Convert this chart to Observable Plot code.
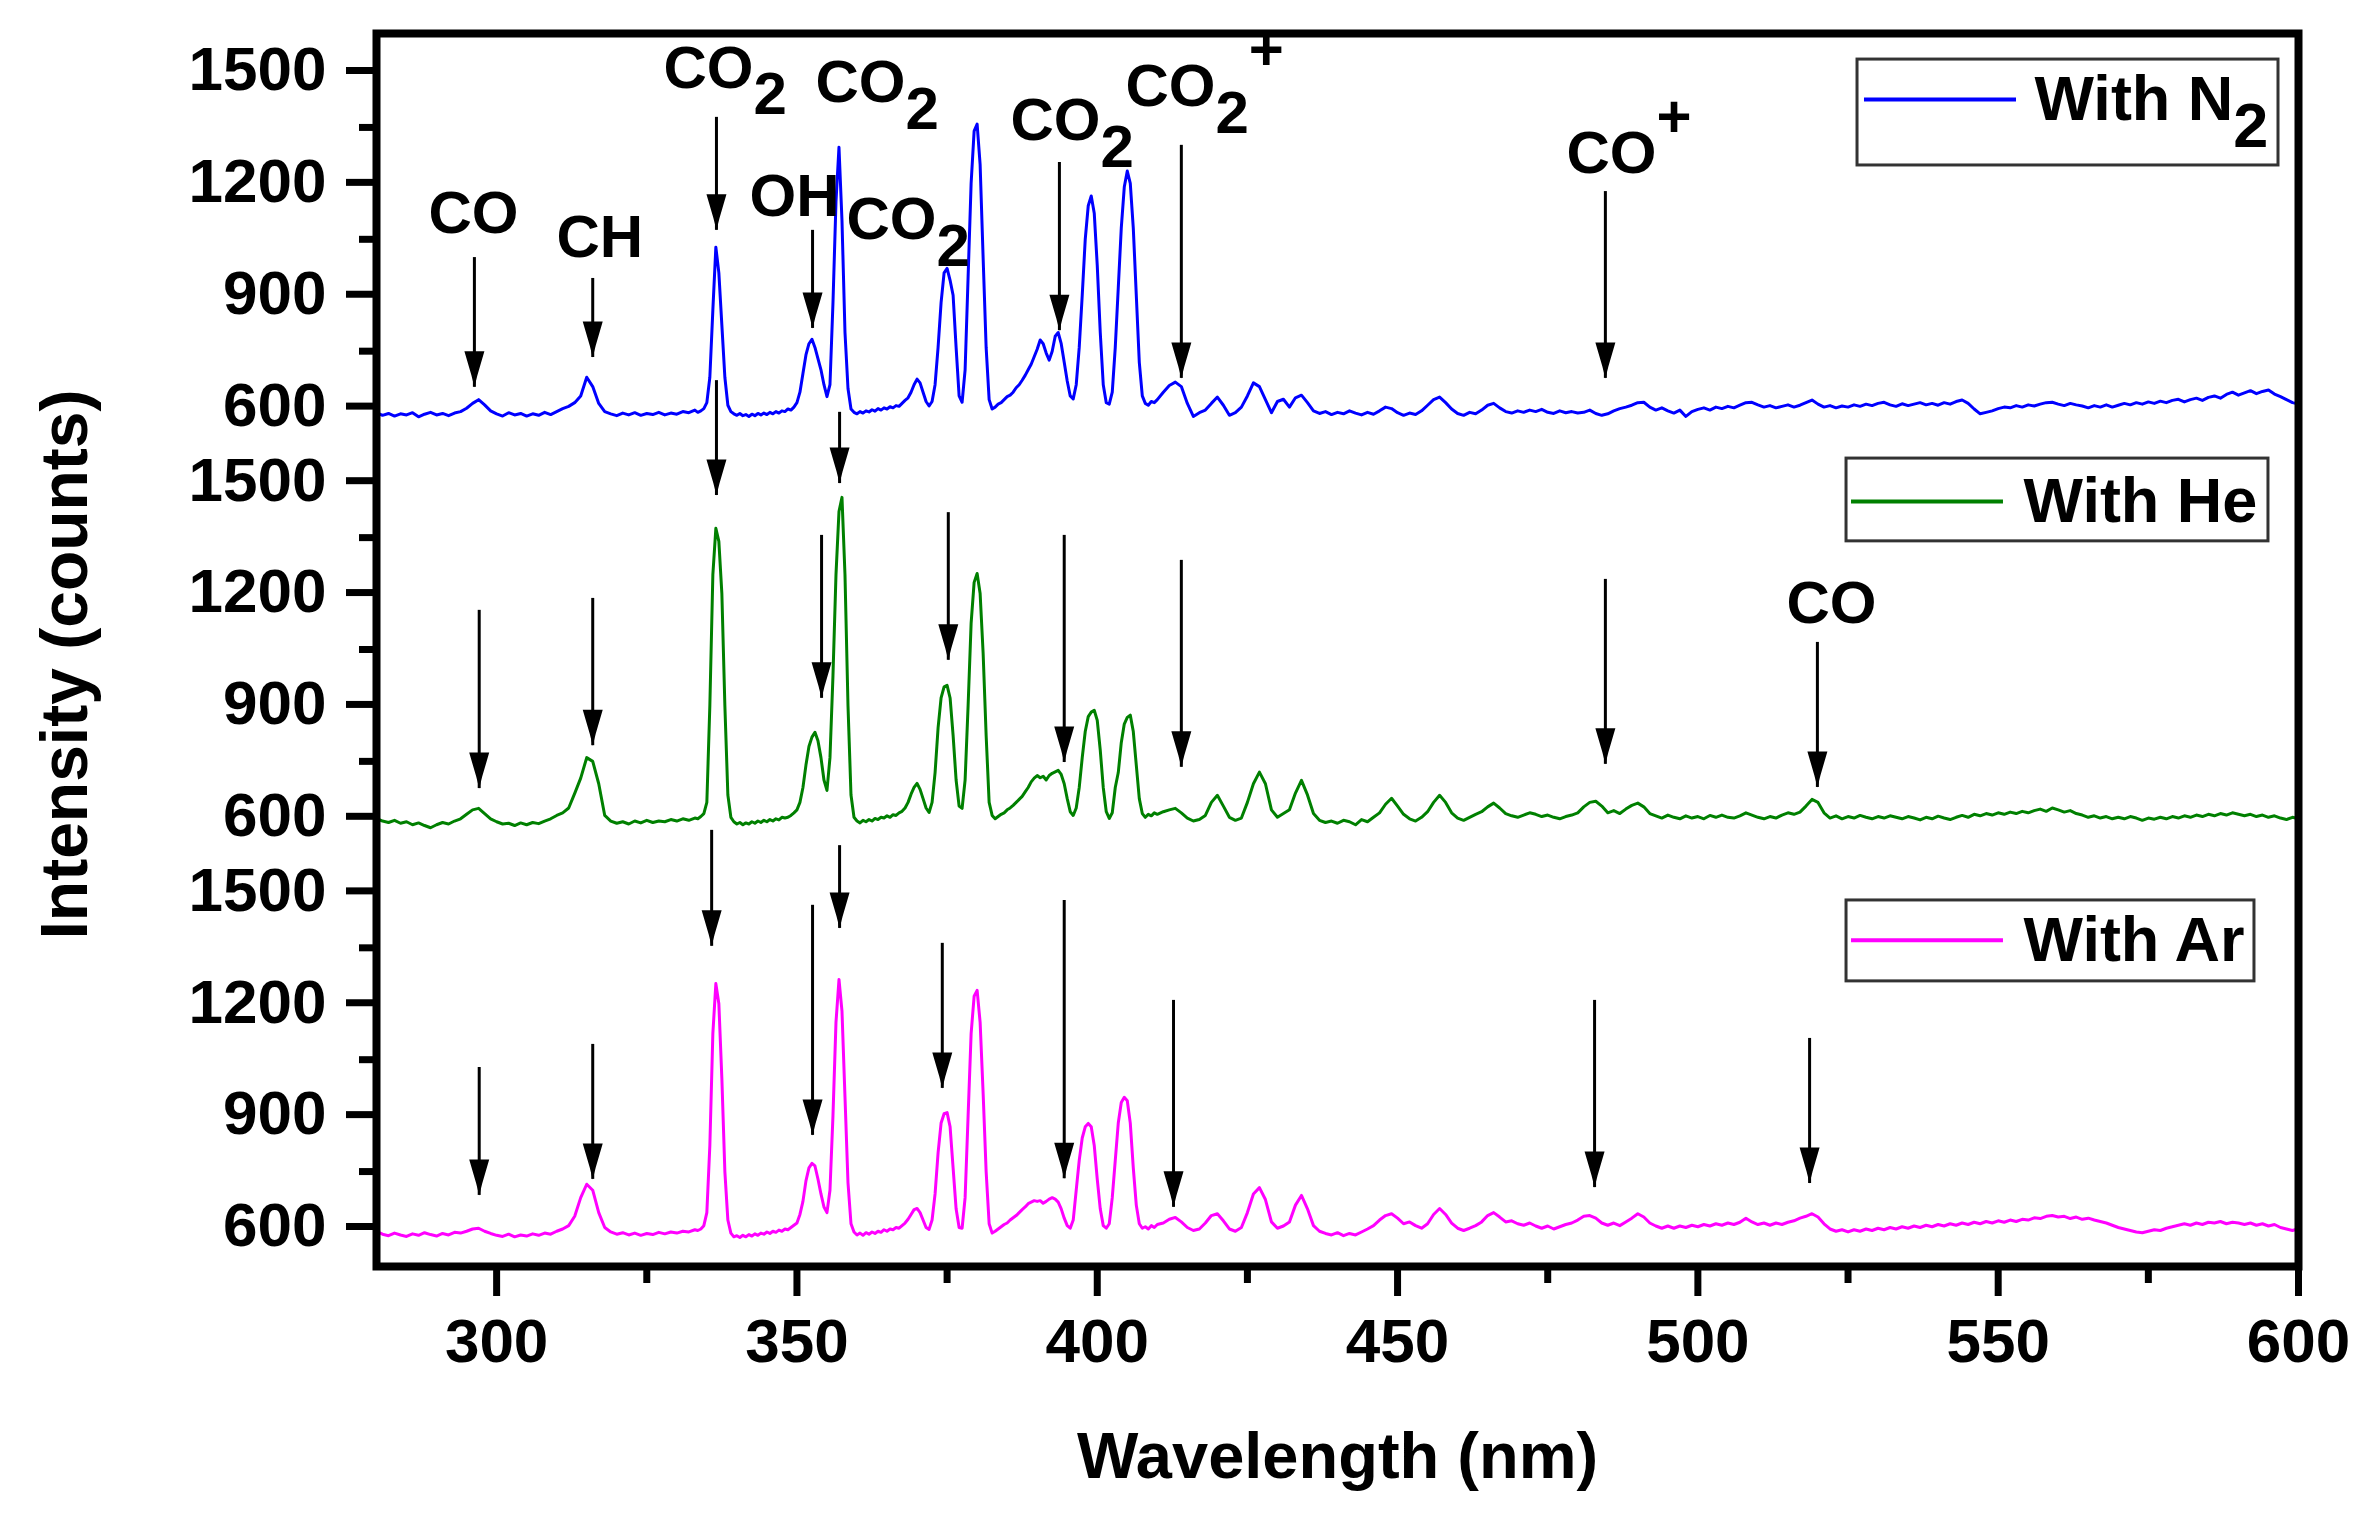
<!DOCTYPE html>
<html>
<head>
<meta charset="utf-8">
<script src="https://cdn.jsdelivr.net/npm/d3@7"></script>
<script src="https://cdn.jsdelivr.net/npm/@observablehq/plot@0.6"></script>
<style>
html, body { margin: 0; padding: 0; background: #fff; }
#chart { width: 2372px; height: 1516px; }
</style>
</head>
<body>
<div id="chart"></div>
<script>
// ---------------- DATA ----------------
const wavelength = [
280,281,282,283,284,285,286,287,288,289,
290,291,292,293,294,295,296,297,298,299,
300,301,302,303,304,305,306,307,308,309,
310,311,312,313,314,315,316,317,318,319,
320,321,322,323,324,325,326,327,328,329,
330,331,332,333,
333.5,334,334.5,335,335.5,336,336.5,337,337.5,338,
338.5,339,339.5,340,340.5,341,341.5,342,342.5,343,
343.5,344,344.5,345,345.5,346,346.5,347,347.5,348,
348.5,349,349.5,350,350.5,351,351.5,352,352.5,353,
353.5,354,354.5,355,355.5,356,356.5,357,357.5,358,
358.5,359,359.5,360,360.5,361,361.5,362,362.5,363,
363.5,364,364.5,365,365.5,366,366.5,367,367.5,368,
368.5,369,369.5,370,370.5,371,371.5,372,372.5,373,
373.5,374,374.5,375,375.5,376,376.5,377,377.5,378,
378.5,379,379.5,380,380.5,381,381.5,382,382.5,383,
383.5,384,384.5,385,385.5,386,386.5,387,387.5,388,
388.5,389,389.5,390,390.5,391,391.5,392,392.5,393,
393.5,394,394.5,395,395.5,396,396.5,397,397.5,398,
398.5,399,399.5,400,400.5,401,401.5,402,402.5,403,
403.5,404,404.5,405,405.5,406,406.5,407,407.5,408,
408.5,409,409.5,410,
411,412,413,414,415,416,417,418,419,420,
421,422,423,424,425,426,427,428,429,430,
431,432,433,434,435,436,437,438,439,440,
441,442,443,444,445,446,447,448,449,450,
451,452,453,454,455,456,457,458,459,460,
461,462,463,464,465,466,467,468,469,470,
471,472,473,474,475,476,477,478,479,480,
481,482,483,484,485,486,487,488,489,490,
491,492,493,494,495,496,497,498,499,500,
501,502,503,504,505,506,507,508,509,510,
511,512,513,514,515,516,517,518,519,520,
521,522,523,524,525,526,527,528,529,530,
531,532,533,534,535,536,537,538,539,540,
541,542,543,544,545,546,547,548,549,550,
551,552,553,554,555,556,557,558,559,560,
561,562,563,564,565,566,567,568,569,570,
571,572,573,574,575,576,577,578,579,580,
581,582,583,584,585,586,587,588,589,590,
591,592,593,594,595,596,597,598,599,600
];

const intensityN2 = [
585,578,583,576,582,579,585,574,581,586,
579,583,577,584,588,597,610,620,606,590,
582,576,585,579,583,576,582,578,586,580,
588,596,602,612,630,680,655,610,588,582,
577,584,579,585,578,583,580,586,579,584,
581,588,585,592,
586,590,596,612,680,860,1029,960,820,680,
605,588,582,578,583,577,580,575,581,577,
583,579,584,580,586,582,588,584,590,588,
595,592,600,612,640,690,740,770,782,760,
730,700,660,628,660,880,1150,1297,1100,800,
650,595,586,582,588,584,590,587,593,589,
596,592,598,595,601,598,604,602,610,618,
625,640,660,675,665,640,615,603,615,660,
760,880,960,972,940,900,760,630,613,700,
950,1200,1340,1359,1250,1000,760,620,595,600,
608,612,620,628,632,640,652,660,672,685,
700,715,735,755,780,770,745,726,750,790,
800,770,720,670,630,622,660,760,900,1050,
1140,1166,1120,980,800,660,612,608,640,760,
920,1080,1190,1233,1200,1080,900,720,630,610,
605,615,612,620,
640,658,667,655,610,575,585,592,610,627,
605,578,585,600,630,665,655,620,585,615,
621,600,625,632,612,590,583,588,580,586,
582,590,584,579,586,581,590,600,596,585,
578,584,580,590,605,620,627,612,595,583,
578,586,582,592,605,610,598,588,584,590,
586,592,588,594,586,583,590,585,588,584,
586,592,583,578,582,590,596,600,605,612,
613,600,592,598,590,584,592,575,588,594,
598,592,600,596,602,598,605,612,613,606,
600,604,598,602,606,600,605,612,619,608,
600,604,598,603,600,606,602,608,604,610,
613,606,602,609,604,608,612,606,610,605,
612,608,615,619,610,595,582,586,590,596,
600,598,604,600,606,603,608,612,613,608,
604,610,606,603,598,604,600,606,600,605,
610,606,612,608,614,610,616,612,618,621,
614,620,624,618,626,630,624,634,640,632,
638,644,636,642,646,635,628,620,612,608
];

const intensityHe = [
597,590,586,592,584,588,580,585,578,572,
580,586,582,590,596,608,620,624,610,596,
588,582,584,578,585,580,586,583,590,596,
605,612,625,664,705,760,750,690,605,590,
584,588,582,590,585,592,586,590,588,594,
590,596,592,598,
596,602,610,640,900,1250,1375,1340,1200,900,
660,600,588,582,586,580,585,582,588,584,
590,586,592,588,594,590,596,593,600,598,
600,605,612,620,640,680,740,790,815,828,
805,760,700,672,760,980,1250,1420,1458,1250,
900,660,600,590,585,592,588,594,590,597,
594,600,598,604,600,607,605,612,616,625,
640,662,680,691,675,650,625,613,640,720,
840,920,950,954,920,820,700,630,624,700,
900,1120,1230,1254,1200,1040,820,640,605,596,
602,608,612,620,625,632,640,648,656,668,
680,695,705,712,706,710,700,712,718,722,
726,715,690,650,615,605,625,680,760,830,
870,882,887,860,780,680,615,597,612,680,
720,800,850,868,874,830,740,650,610,600,
608,604,612,608,
615,620,624,612,598,590,594,605,640,659,
630,600,592,598,640,690,721,690,620,600,
610,620,665,699,660,610,592,586,590,584,
592,588,580,594,588,600,612,635,651,630,
608,596,590,600,615,640,659,640,612,598,
592,600,608,615,628,638,625,610,604,600,
606,612,608,602,606,600,596,602,606,612,
628,640,643,630,612,618,610,622,632,638,
628,610,604,598,606,600,596,604,598,602,
596,605,600,606,600,598,604,612,606,600,
596,602,598,606,612,608,614,630,648,640,
612,598,604,596,602,598,605,600,596,602,
598,604,600,596,602,598,593,600,596,603,
598,594,600,605,600,608,604,610,606,612,
608,614,610,616,612,618,622,616,625,620,
614,618,610,606,600,604,598,602,596,600,
596,602,598,592,598,595,600,596,602,598,
604,600,606,602,608,604,610,606,612,608,
604,608,602,606,600,604,598,594,600,596
];

const intensityAr = [
590,582,578,585,580,576,583,579,586,581,
577,584,580,587,585,590,596,598,590,584,
579,576,582,575,580,577,583,579,585,582,
590,596,605,630,680,716,700,640,600,588,
582,586,580,585,579,584,581,587,583,588,
585,590,588,594,
592,596,605,640,820,1120,1254,1200,1000,750,
620,585,575,578,573,579,575,581,577,583,
579,585,582,588,584,590,587,593,590,596,
594,600,606,612,635,670,725,760,772,765,
730,690,655,640,700,900,1150,1265,1180,950,
720,610,588,580,585,579,586,582,588,584,
590,587,594,590,596,594,600,598,605,612,
622,635,648,651,640,620,600,595,620,690,
800,880,905,908,870,760,650,600,598,680,
900,1120,1220,1236,1150,960,750,610,585,590,
596,602,608,612,620,626,632,640,648,655,
664,668,672,670,672,665,670,676,680,676,
668,650,625,605,598,620,700,780,840,870,
879,870,820,730,650,605,598,610,680,780,
880,935,949,940,880,760,660,610,598,602,
596,605,600,608,
612,622,627,615,600,592,596,612,632,637,
618,596,590,600,640,690,707,675,615,598,
604,615,660,686,650,605,590,584,580,586,
578,584,580,588,596,605,620,632,637,625,
610,615,605,598,610,635,651,635,612,598,
592,598,605,615,632,640,628,615,618,610,
606,612,604,598,604,596,602,608,612,620,
630,632,625,612,606,612,605,615,625,637,
628,612,604,598,604,598,604,600,606,602,
608,604,610,606,612,608,614,625,615,608,
612,606,612,608,614,618,625,630,637,628,
610,596,590,594,588,594,590,596,592,598,
594,600,596,602,598,604,600,606,602,608,
604,610,606,612,608,614,610,616,612,618,
614,620,616,622,620,626,624,630,632,628,
630,624,628,622,625,620,616,612,606,600,
596,592,588,586,590,594,592,598,602,606,
610,606,612,608,614,612,616,610,614,612,
608,612,606,610,604,608,600,596,592,597
];

const seriesKeys   = ["N2", "He", "Ar"];
const seriesLabels = ["With N_2", "With He", "With Ar"];
const seriesColors = ["#0000ff", "#008000", "#ff00ff"];

const yTickValues      = [600, 900, 1200, 1500];
const yMinorTickValues = [750, 1050, 1350];
const xTickValues      = [300, 350, 400, 450, 500, 550, 600];
const xMinorTickValues = [325, 375, 425, 475, 525, 575];

// annotation arrows: wavelength, start intensity, tip intensity (in each panel's counts)
const arrows = [
  {series: "N2", wl: 296.3, from: 1001, to: 653},
  {series: "N2", wl: 316.0, from: 945,  to: 733},
  {series: "N2", wl: 336.6, from: 1377, to: 1074},
  {series: "N2", wl: 352.6, from: 1074, to: 811},
  {series: "N2", wl: 393.7, from: 1256, to: 805},
  {series: "N2", wl: 414.0, from: 1302, to: 677},
  {series: "N2", wl: 484.6, from: 1178, to: 677},
  {series: "He", wl: 297.1, from: 1155, to: 677},
  {series: "He", wl: 316.0, from: 1187, to: 792},
  {series: "He", wl: 336.6, from: 1771, to: 1463},
  {series: "He", wl: 357.1, from: 1686, to: 1495},
  {series: "He", wl: 354.1, from: 1356, to: 919},
  {series: "He", wl: 375.2, from: 1417, to: 1021},
  {series: "He", wl: 394.5, from: 1356, to: 747},
  {series: "He", wl: 414.0, from: 1289, to: 734},
  {series: "He", wl: 484.6, from: 1238, to: 742},
  {series: "He", wl: 519.9, from: 1069, to: 680},
  {series: "Ar", wl: 297.1, from: 1029, to: 686},
  {series: "Ar", wl: 316.0, from: 1091, to: 729},
  {series: "Ar", wl: 335.8, from: 1665, to: 1354},
  {series: "Ar", wl: 352.6, from: 1464, to: 847},
  {series: "Ar", wl: 357.1, from: 1624, to: 1402},
  {series: "Ar", wl: 374.2, from: 1362, to: 973},
  {series: "Ar", wl: 394.5, from: 1477, to: 731},
  {series: "Ar", wl: 412.7, from: 1209, to: 654},
  {series: "Ar", wl: 482.8, from: 1209, to: 707},
  {series: "Ar", wl: 518.6, from: 1107, to: 718}
];

// species labels ("_" = subscript, "^" = superscript); wl = left edge, level = counts in panel
const speciesLabels = [
  {series: "N2", text: "CO",     wl: 288.66, level: 1119},
  {series: "N2", text: "CH",     wl: 309.97, level: 1055},
  {series: "N2", text: "CO_2",   wl: 327.78, level: 1507},
  {series: "N2", text: "OH",     wl: 342.10, level: 1163},
  {series: "N2", text: "CO_2",   wl: 353.09, level: 1469},
  {series: "N2", text: "CO_2",   wl: 358.25, level: 1102},
  {series: "N2", text: "CO_2",   wl: 385.56, level: 1367},
  {series: "N2", text: "CO_2^+", wl: 404.70, level: 1458},
  {series: "N2", text: "CO^+",   wl: 478.13, level: 1279},
  {series: "He", text: "CO",     wl: 514.75, level: 1173}
];

// legend boxes (wavelength / panel counts)
const legendBoxes = [
  {series: "N2", x1: 526.58, x2: 596.67, y1: 1248, y2: 1532, lx1: 527.74, lx2: 553.05, ly: 1425, tx: 556.04},
  {series: "He", x1: 524.75, x2: 595.00, y1: 1340, y2: 1562, lx1: 525.58, lx2: 550.88, ly: 1447, tx: 554.21},
  {series: "Ar", x1: 524.75, x2: 592.67, y1: 1260, y2: 1477, lx1: 525.58, lx2: 550.88, ly: 1370, tx: 554.21}
];

// ---------------- LAYOUT ----------------
const PANEL_OFFSET = 1100;                 // vertical offset between stacked panels (counts)
const panelIndex = {N2: 2, He: 1, Ar: 0};
const stack = (series, v) => v + PANEL_OFFSET * panelIndex[series];
const colorOf = s => seriesColors[seriesKeys.indexOf(s)];

const n = Math.min(wavelength.length, intensityN2.length, intensityHe.length, intensityAr.length);
const seriesValues = {N2: intensityN2, He: intensityHe, Ar: intensityAr};
const rowsFor = s => d3.range(n).map(i => ({wl: wavelength[i], y: stack(s, seriesValues[s][i])}));

const yMajor = [], yMinor = [];
for (const s of seriesKeys) {
  for (const t of yTickValues) yMajor.push(stack(s, t));
  for (const t of yMinorTickValues) yMinor.push(stack(s, t));
}
const yLabel = d => String(d - PANEL_OFFSET * Math.floor((d - 495) / PANEL_OFFSET));

const arrowRows = arrows.map(a => ({wl: a.wl, from: stack(a.series, a.from), to: stack(a.series, a.to)}));
const labelRows = speciesLabels.map(l => ({text: l.text, wl: l.wl, y: stack(l.series, l.level)}));
const legendRows = legendBoxes.map(b => ({
  ...b, Y1: stack(b.series, b.y1), Y2: stack(b.series, b.y2), LY: stack(b.series, b.ly),
  label: seriesLabels[seriesKeys.indexOf(b.series)], color: colorOf(b.series)
}));

const arrowHead = {
  draw(ctx) {
    ctx.moveTo(-10, -36);
    ctx.lineTo(10, -36);
    ctx.lineTo(3, -12);
    ctx.lineTo(0, 0);
    ctx.lineTo(-3, -12);
    ctx.closePath();
  }
};

const FONT = "'Liberation Sans', Arial, Helvetica, sans-serif";

const chart = Plot.plot({
  width: 2372,
  height: 1516,
  marginLeft: 376,
  marginRight: 74,
  marginTop: 33,
  marginBottom: 250,
  style: {fontFamily: FONT, background: "#fff", color: "#000", overflow: "visible"},
  x: {domain: [280, 600], axis: null},
  y: {domain: [495.4, 3801.9], axis: null},
  marks: [
    // spectra
    ...seriesKeys.map(s => Plot.line(rowsFor(s), {x: "wl", y: "y", stroke: colorOf(s), strokeWidth: 3})),
    // arrows
    Plot.ruleX(arrowRows, {x: "wl", y1: "from", y2: "to", stroke: "#000", strokeWidth: 3}),
    Plot.dot(arrowRows, {x: "wl", y: "to", symbol: arrowHead, r: 10, fill: "#000"}),
    // species labels
    Plot.text(labelRows, {x: "wl", y: "y", text: "text", textAnchor: "start", fontSize: 60, fontWeight: "bold", fill: "#000"}),
    // legends
    Plot.rect(legendRows, {x1: "x1", x2: "x2", y1: "Y1", y2: "Y2", fill: "#fff", stroke: "#333", strokeWidth: 3}),
    Plot.ruleY(legendRows, {y: "LY", x1: "lx1", x2: "lx2", stroke: "color", strokeWidth: 4}),
    Plot.text(legendRows, {x: "tx", y: "LY", text: "label", textAnchor: "start", fontSize: 63, fontWeight: "bold", fill: "#000"}),
    // axes
    Plot.axisY(yMajor, {anchor: "left", tickSize: 30, tickPadding: 20, strokeWidth: 7, tickFormat: yLabel,
      fontSize: 62, fontWeight: "bold", dy: -1, label: null}),
    Plot.axisY(yMinor, {anchor: "left", tickSize: 17, strokeWidth: 7, tickFormat: () => "", label: null}),
    Plot.axisX(xTickValues, {anchor: "bottom", tickSize: 30, tickPadding: 21, strokeWidth: 7, tickFormat: d => String(d),
      fontSize: 62, fontWeight: "bold", label: null}),
    Plot.axisX(xMinorTickValues, {anchor: "bottom", tickSize: 17, strokeWidth: 7, tickFormat: () => "", label: null}),
    Plot.frame({stroke: "#000", strokeWidth: 8}),
    // axis titles
    Plot.text(["Wavelength (nm)"], {frameAnchor: "bottom", textAnchor: "middle", dy: 211, fontSize: 65, fontWeight: "bold", fill: "#000"}),
    Plot.text(["Intensity (counts)"], {frameAnchor: "left", textAnchor: "middle", rotate: -90, dx: -311, dy: 14.5, fontSize: 66, fontWeight: "bold", fill: "#000"})
  ]
});

document.getElementById("chart").appendChild(chart);

// rich text: "_x" subscript, "^x" superscript
const NS = "http://www.w3.org/2000/svg";
chart.querySelectorAll("text").forEach(t => {
  const s = t.textContent;
  if (!/[_^]/.test(s)) return;
  const fs = parseFloat(getComputedStyle(t).fontSize) || 60;
  t.textContent = "";
  let cur = 0;
  for (const m of s.matchAll(/([_^])([^_^])|([^_^]+)/g)) {
    const ts = document.createElementNS(NS, "tspan");
    let target;
    if (m[3] !== undefined) { target = 0; ts.textContent = m[3]; }
    else if (m[1] === "_") { target = 0.44 * fs; ts.textContent = m[2]; }
    else { target = -0.6 * fs; ts.textContent = m[2]; }
    const d = target - cur;
    if (d !== 0) ts.setAttribute("dy", d.toFixed(1));
    cur = target;
    t.appendChild(ts);
  }
});
</script>
</body>
</html>
